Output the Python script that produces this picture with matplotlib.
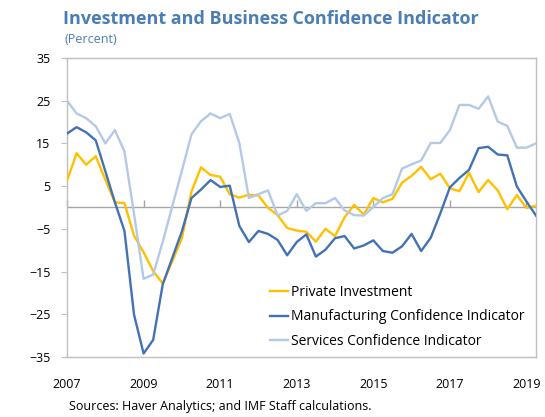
import matplotlib.pyplot as plt
import numpy as np

plt.rcParams['font.family'] = ['Open Sans', 'DejaVu Sans']

# Quarterly data, 2007Q1 - 2019Q2
start_year = 2007
private_investment = [
    6.3, 12.7, 10.0, 12.0, 6.5, 1.2, 1.0, -6.6, -10.5, -14.9,
    -17.8, -12.6, -7.2, 3.7, 9.4, 7.6, 7.2, 3.1, 2.3, 3.0,
    2.8, -0.1, -1.8, -4.8, -5.4, -5.7, -8.0, -5.0, -6.7, -2.3,
    0.6, -1.7, 2.2, 1.2, 2.0, 5.8, 7.4, 9.5, 6.6, 7.9,
    4.5, 3.8, 8.1, 3.6, 6.4, 4.0, -0.4, 2.9, -0.1, 0.4,
]
manufacturing = [
    17.3, 18.8, 17.6, 15.7, 8.5, 1.2, -5.5, -25.1, -34.2, -31.0,
    -18.0, -11.8, -5.6, 2.2, 4.2, 6.4, 4.8, 5.1, -4.3, -8.1,
    -5.5, -6.2, -7.6, -11.2, -8.1, -6.3, -11.5, -9.9, -7.2, -6.7,
    -9.6, -8.9, -7.7, -10.2, -10.6, -9.1, -6.2, -10.2, -7.1, -1.4,
    4.7, 6.9, 8.8, 13.9, 14.2, 12.4, 12.2, 4.9, 1.4, -1.9,
]
services = [
    25.0, 22.0, 20.9, 19.0, 15.0, 18.1, 13.1, -1.5, -16.7, -15.7,
    -8.0, 0.3, 8.6, 17.1, 20.2, 22.0, 20.9, 21.9, 15.1, 2.2,
    3.1, 4.0, -1.9, -0.8, 3.1, -0.8, 1.0, 1.0, 2.2, -0.7,
    -1.8, -1.9, 0.1, 2.2, 3.1, 9.1, 10.1, 11.0, 15.1, 15.1,
    18.1, 24.0, 24.0, 23.1, 26.0, 20.1, 19.1, 14.0, 14.0, 15.0,
]
year_ticks = [2007, 2009, 2011, 2013, 2015, 2017, 2019]
y_ticks = [-35, -25, -15, -5, 5, 15, 25, 35]

x = start_year + np.arange(len(services)) / 4

title_blue = '#4a7db3'
grey = '#bfbfbf'
zero_grey = '#a6a6a6'

fig = plt.figure(figsize=(5.45, 4.17), dpi=100)
ax = fig.add_axes([0.123, 0.144, 0.8605, 0.717])

# zero line with upward tick marks
ax.axhline(0, color=zero_grey, lw=1.0, zorder=1)
zero_ax = ax.secondary_xaxis(0.5)
zero_ax.set_xticks(year_ticks)
zero_ax.set_xticklabels([])
zero_ax.tick_params(direction='out', length=5, width=1.0, color=zero_grey)
for s in zero_ax.spines.values():
    s.set_visible(False)

ax.plot(x, private_investment, color='#ffc000', lw=1.7, label='Private Investment', zorder=3)
ax.plot(x, manufacturing, color='#4272b5', lw=1.7, label='Manufacturing Confidence Indicator', zorder=3)
ax.plot(x, services, color='#b4c9e6', lw=1.7, label='Services Confidence Indicator', zorder=3)

ax.set_xlim(x[0], x[-1])
ax.set_ylim(-35, 35)
ax.set_yticks(y_ticks)
ax.set_xticks(year_ticks)
ax.tick_params(axis='y', labelsize=9, length=4, color=grey, pad=8)
ax.tick_params(axis='x', labelsize=9, length=0, pad=15)
for s in ax.spines.values():
    s.set_color(grey)
    s.set_linewidth(1.0)

leg = ax.legend(loc='lower left', bbox_to_anchor=(0.41, -0.01), frameon=False,
                fontsize=10, handlelength=1.3, handletextpad=0.2,
                labelspacing=0.68, borderaxespad=0.4)

fig.text(0.116, 0.955, 'Investment and Business Confidence Indicator',
         fontsize=13, fontweight='bold', color=title_blue, va='center')
fig.text(0.118, 0.905, '(Percent)', fontsize=9, color=title_blue, va='center')
fig.text(0.127, 0.025, 'Sources: Haver Analytics; and IMF Staff calculations.',
         fontsize=9, color='black', va='center')

fig.savefig('out.png', dpi=100)
